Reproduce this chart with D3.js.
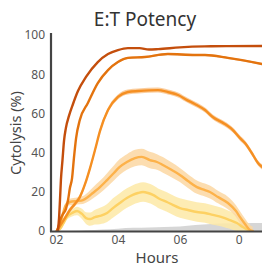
<!DOCTYPE html>
<html><head><meta charset="utf-8">
<script src="https://cdn.jsdelivr.net/npm/d3@7"></script>
<style>body{margin:0;background:#fff}svg{display:block}</style>
</head><body>
<svg id="c" width="262" height="268"></svg>
<script>
// ---- data (hours, % cytolysis) ----
const s1Hours = [2.06,2.10,2.13,2.16,2.21,2.26,2.32,2.42,2.55,2.71,2.97,3.35,3.68,4.0,4.32,4.7,5.0,5.3,6.0,6.8,7.5,8.65];
const s1Vals  = [0,6.6,15.8,26,36,46,52.5,58.7,64.8,71.4,78.6,86.2,90.3,92.3,93.3,93.3,92.6,92.8,93.7,94.2,94.3,94.4];

const s2Hours = [2.03,2.10,2.16,2.23,2.32,2.39,2.45,2.52,2.58,2.65,2.77,3.03,3.35,3.68,4.0,4.32,4.87,5.61,6.48,6.81,7.55,8.65];
const s2Vals  = [0,3.1,6.6,8.7,11.2,15.8,21.9,27,37.2,47.4,56.6,65.3,75.5,82.1,86.2,88.3,88.8,90.3,89.8,89.8,88.3,85.2];

const s3Hours = [2.03,2.13,2.29,2.45,2.61,2.77,2.94,3.10,3.26,3.42,3.68,4.0,4.32,4.65,5.29,5.61,5.94,6.23,6.48,6.81,7.06,7.45,7.71,7.94,8.10,8.32,8.52,8.65];
const s3Vals  = [0,2.6,6.6,10.7,13.8,17.3,24,32.1,41.3,51,61.7,68.4,70.9,71.4,71.9,70.9,69.4,66.8,64.8,61.7,58.2,54.6,51.5,47.4,44.9,39.8,34.7,32.7];

const s4Hours = [2.03,2.13,2.23,2.32,2.45,2.68,2.87,3.03,3.19,3.42,3.65,3.87,4.06,4.29,4.55,4.77,5.03,5.26,5.45,5.74,6.0,6.26,6.55,6.81,6.97,7.23,7.55,7.81,7.94,8.10,8.26,8.35];
const s4Vals  = [0,3.1,9.2,13.3,14.8,15.3,15.8,17.3,19.4,22.4,26,29.6,32.7,35.2,37.2,37.8,36.2,35.2,33.7,31.1,28.6,25.5,22.4,20.9,19.9,17.3,14.3,10.2,7.1,3.6,0.5,0];
const s4Err   = [0.3,0.6,1,1.3,1.6,1.8,2,2.4,2.8,3.2,3.5,3.8,4,4,4.2,4.2,4.2,4,4,3.8,3.6,3.5,3.4,3.3,3.3,3.2,3.2,3,3,2.8,2.5,2.2];

const s5Hours = [2.03,2.13,2.23,2.35,2.52,2.68,2.84,2.97,3.10,3.26,3.42,3.65,3.84,4.06,4.29,4.48,4.65,4.81,4.97,5.13,5.35,5.58,5.77,6.0,6.26,6.55,6.81,7.06,7.35,7.61,7.84,8.03,8.26];
const s5Vals  = [0,1,3.6,7.1,9.2,10.2,8.7,6.6,6.1,7.1,7.7,9.2,11.7,14.3,16.8,18.4,19.4,19.9,19.4,18.4,16.3,14.8,13.3,11.7,10.7,9.7,9.2,8.2,7.1,5.6,4.1,2.0,0];
const s5Err   = [0.3,0.6,1,1.4,1.8,2.2,2.6,3,3.4,3.8,4.2,4.6,5,5,5,5,5,5,5,5,5,5,5,5,5,5,5,5,4.8,4.5,4.2,4,3.5];

const ctrlHours = [2.5,3.0,3.5,4.0,4.5,5.0,5.5,6.0,6.5,7.0,7.5,8.0,8.65];
const ctrlVals  = [0,0.4,0.8,1.2,1.6,1.8,2.0,2.3,3.0,3.6,3.9,4.0,4.1];

const yTicks = [0,20,40,60,80,100];
const xTickHours = [2,4,6,7.9];
const xTickLabels = ["02","04","06","0"];

// ---- layout ----
const svg = d3.select("#c");
const L = 51, R = 262, T = 33, B = 231;
const x = d3.scaleLinear().domain([1.84, 8.65]).range([L, R]);
const y = d3.scaleLinear().domain([0, 100]).range([B, 35]);
const font = "'Noto Sans', 'Open Sans', sans-serif";

const zip = (h, v, e) => h.map((d, i) => ({h: d, v: v[i], e: e ? (Array.isArray(e) ? e[i] : e) : 0}));

svg.append("defs").append("clipPath").attr("id", "clip")
  .append("rect").attr("x", L).attr("y", T).attr("width", R - L).attr("height", B - T);
const g = svg.append("g").attr("clip-path", "url(#clip)");

const line = d3.line().x(d => x(d.h)).y(d => y(d.v)).curve(d3.curveMonotoneX);
const band = d3.area().x(d => x(d.h)).y0(d => y(Math.max(0, d.v - d.e))).y1(d => y(d.v + d.e)).curve(d3.curveMonotoneX);

// control (gray)
g.append("path").datum(zip(ctrlHours, ctrlVals))
  .attr("d", d3.area().x(d => x(d.h)).y0(y(0)).y1(d => y(d.v)).curve(d3.curveMonotoneX))
  .attr("fill", "#cfcfcf").attr("opacity", 0.85);

const series = [
  {h: s5Hours, v: s5Vals, e: s5Err, c: "#fdd163", b: "#fde9a6"},
  {h: s4Hours, v: s4Vals, e: s4Err, c: "#fdb24a", b: "#fcd7a2"},
  {h: s3Hours, v: s3Vals, e: 1.3, c: "#f58f22", b: "#f9c48c"},
  {h: s2Hours, v: s2Vals, e: 0.5, c: "#e3730e", b: "#f0b07a"},
  {h: s1Hours, v: s1Vals, e: 0, c: "#c44e0c", b: null}
];
series.forEach(s => {
  if (s.b) g.append("path").datum(zip(s.h, s.v, s.e)).attr("d", band).attr("fill", s.b).attr("opacity", 0.85);
});
series.forEach(s => {
  g.append("path").datum(zip(s.h, s.v)).attr("d", line)
    .attr("fill", "none").attr("stroke", s.c).attr("stroke-width", 2.4)
    .attr("stroke-linejoin", "round").attr("stroke-linecap", "round");
});

// axes
const yAx = svg.append("g").attr("transform", `translate(${L},0)`)
  .call(d3.axisLeft(y).tickValues(yTicks).tickSize(0).tickPadding(6));
yAx.select(".domain").remove();
yAx.selectAll("text").attr("font-family", font).attr("font-size", 12).attr("fill", "#555");

const xAx = svg.append("g").attr("transform", `translate(0,${B})`)
  .call(d3.axisBottom(x).tickValues(xTickHours).tickSize(0).tickPadding(4)
    .tickFormat((d, i) => xTickLabels[i]));
xAx.select(".domain").remove();
xAx.selectAll("text").attr("font-family", font).attr("font-size", 12).attr("fill", "#555");

svg.append("line").attr("x1", L).attr("x2", L).attr("y1", T).attr("y2", B + 1)
  .attr("stroke", "#444").attr("stroke-width", 2.2);
svg.append("line").attr("x1", L - 1).attr("x2", R).attr("y1", B + 0.5).attr("y2", B + 0.5)
  .attr("stroke", "#444").attr("stroke-width", 2.2);

// titles
svg.append("text").attr("x", 145).attr("y", 26).attr("text-anchor", "middle")
  .attr("font-family", font).attr("font-size", 19).attr("fill", "#333").text("E:T Potency");
svg.append("text").attr("transform", "translate(21,133) rotate(-90)").attr("text-anchor", "middle")
  .attr("font-family", font).attr("font-size", 14.5).attr("fill", "#444").text("Cytolysis (%)");
svg.append("text").attr("x", 157).attr("y", 263).attr("text-anchor", "middle")
  .attr("font-family", font).attr("font-size", 15).attr("fill", "#444").text("Hours");
</script>
</body></html>
